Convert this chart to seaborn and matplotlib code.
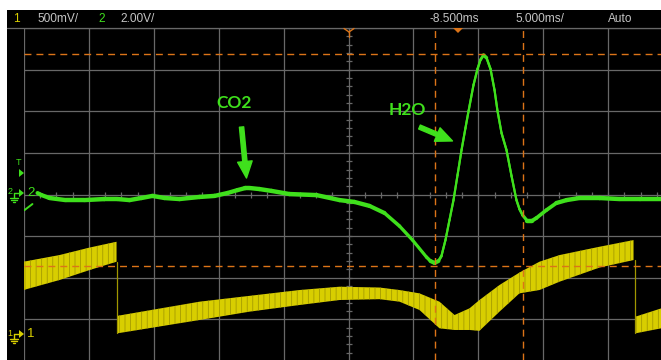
import matplotlib
matplotlib.use("Agg")
import matplotlib.pyplot as plt
from matplotlib.patches import Rectangle, Polygon
from matplotlib.lines import Line2D
from matplotlib.collections import LineCollection
import pandas as pd
import seaborn as sns

# ---------------- scope settings ----------------
time_per_div = 5.0        # ms / div
time_center = -8.5        # ms at screen centre (delay)
ch1_volts_per_div = 0.5
ch2_volts_per_div = 2.0
ch1_ground_div = -3.375   # ground reference, divisions from centre
ch2_ground_div = 0.036

# ---------------- channel 2 (green), ms / V ----------------
ch2_time = [-32.46, -32.15, -31.54, -30.30, -28.84, -27.30, -26.30, -25.37, -24.45,
            -23.60, -22.68, -21.52, -19.98, -18.82, -17.82, -17.05, -16.44, -16.13,
            -15.36, -14.43, -13.05, -10.97, -9.19, -8.04, -6.88, -5.73, -4.57, -3.57,
            -2.49, -2.18, -1.87, -1.57, -1.34, -1.03, -0.72, -0.41, -0.10, 0.21, 0.51,
            0.75, 1.13, 1.44, 1.67, 1.90, 2.13, 2.44, 2.75, 2.98, 3.29, 3.67, 4.06,
            4.44, 4.67, 4.91, 5.29, 5.60, 5.98, 6.75, 7.52, 8.30, 9.30, 10.84, 12.38,
            13.92, 15.54]
ch2_volt = [0.00, -0.10, -0.24, -0.34, -0.34, -0.29, -0.29, -0.34, -0.24,
            -0.14, -0.24, -0.29, -0.19, -0.14, 0.00, 0.14, 0.24, 0.24,
            0.19, 0.10, -0.05, -0.10, -0.34, -0.43, -0.62, -0.96, -1.59, -2.26,
            -3.08, -3.27, -3.36, -3.27, -3.03, -2.26, -1.30, -0.34, 0.86, 2.07, 3.12,
            3.94, 5.19, 5.96, 6.40, 6.63, 6.50, 5.96, 4.95, 3.94, 2.88, 2.07, 0.82,
            -0.34, -0.77, -1.06, -1.35, -1.35, -1.20, -0.82, -0.48, -0.34, -0.24, -0.24, -0.29,
            -0.29, -0.29]
ch2_lead_time = [-33.46, -32.85]
ch2_lead_volt = [-0.82, -0.53]

# ---------------- channel 1 (yellow) sweep envelopes, ms / V ----------------
sweep1_time = [-33.54, -30.77, -28.45, -26.37]
sweep1_high = [0.88, 0.96, 1.05, 1.12]
sweep1_low = [0.54, 0.66, 0.78, 0.88]

sweep2_time = [-26.30, -19.98, -16.13, -12.28, -9.19, -6.11, -4.57, -3.03, -1.49, -0.33,
               0.82, 1.59, 3.13, 4.67, 6.21, 7.76, 10.84, 13.46]
sweep2_high = [0.23, 0.40, 0.47, 0.54, 0.58, 0.57, 0.54, 0.50, 0.40, 0.24,
               0.32, 0.42, 0.60, 0.75, 0.88, 0.96, 1.06, 1.14]
sweep2_low = [0.02, 0.18, 0.28, 0.36, 0.42, 0.43, 0.40, 0.30, 0.08, 0.06,
              0.06, 0.05, 0.28, 0.50, 0.54, 0.64, 0.81, 0.90]

sweep3_time = [13.61, 15.60]
sweep3_high = [0.22, 0.32]
sweep3_low = [0.02, 0.08]

# cursors
cursor_times = [-1.80, 4.98]        # ms
cursor_levels_ch2 = [6.66, -3.51]   # V

# labels
status_ch1 = "500mV/"
status_ch2 = "2.00V/"
status_delay = "-8.500ms"
status_timebase = "5.000ms/"
status_mode = "Auto"

# ---------------- colours ----------------
BG = "black"
GRID = "#686868"
TXT = "#c4c4c4"
GREEN = "#3fe01c"
YELLOW = "#d8ce00"
YELLOW_DARK = "#a09700"
ORANGE = "#dc7418"

sns.set_style("dark")
plt.rcParams["font.family"] = ["Liberation Sans", "DejaVu Sans"]
plt.rcParams["hatch.linewidth"] = 0.55

W, H = 661, 360
fig = plt.figure(figsize=(W / 100, H / 100), dpi=100, facecolor="white")


def fp(x, y):
    """pixel (from top-left) -> figure fraction"""
    return x / W, 1 - y / H


# screen background
fig.patches.append(Rectangle(fp(7, 360), (W - 7) / W, 350 / H, transform=fig.transFigure,
                             facecolor=BG, edgecolor="none", zorder=-5))

# graticule axes (time in ms, vertical in divisions)
ax = fig.add_axes([24 / W, 0, (W - 24) / W, (360 - 28) / H])
ax.set_facecolor(BG)
px_per_div_x = 64.9
px_per_div_y = 41.625
x_left = time_center - 5 * time_per_div
x_right = x_left + (W - 24) / px_per_div_x * time_per_div
y_top = 4.0
y_bottom = y_top - (360 - 28) / px_per_div_y
ax.set_xlim(x_left, x_right)
ax.set_ylim(y_bottom, y_top)
for s in ax.spines.values():
    s.set_visible(False)
ax.set_xticks([])
ax.set_yticks([])
ax.grid(False)

for k in range(0, 11):
    ax.axvline(x_left + k * time_per_div, color=GRID, lw=0.9, zorder=1)
for k in range(-4, 5):
    ax.axhline(k, color=GRID, lw=0.9, zorder=1)

# centre axis minor ticks
minor_x = [x_left + 0.25 * k * time_per_div for k in range(0, 40)]
ax.plot(minor_x, [0] * len(minor_x), ls="none", marker="|", ms=4, mew=0.9, color=GRID, zorder=1)
minor_y = [-4 + 0.2 * k for k in range(0, 41)]
ax.plot([time_center] * len(minor_y), minor_y, ls="none", marker="_", ms=4, mew=0.9, color=GRID, zorder=1)

# channel 1 axes
ax1 = ax.twinx()
ax1.set_ylim((y_bottom - ch1_ground_div) * ch1_volts_per_div, (y_top - ch1_ground_div) * ch1_volts_per_div)
ax1.set_axis_off()

sweeps = pd.DataFrame({
    "time": sweep1_time + sweep2_time + sweep3_time,
    "high": sweep1_high + sweep2_high + sweep3_high,
    "low": sweep1_low + sweep2_low + sweep3_low,
    "sweep": [1] * len(sweep1_time) + [2] * len(sweep2_time) + [3] * len(sweep3_time),
})
for _, g in sweeps.groupby("sweep"):
    ax1.fill_between(g["time"], g["low"], g["high"], facecolor=YELLOW, edgecolor=YELLOW_DARK,
                     hatch="|||", linewidth=0, zorder=2)
# retrace edges between sweeps
ax1.plot([sweep2_time[0], sweep2_time[0]], [sweep1_low[-1], sweep2_low[0]], color=YELLOW_DARK, lw=0.9, zorder=2)
ax1.plot([sweep3_time[0], sweep3_time[0]], [sweep2_low[-1], sweep3_low[0]], color=YELLOW_DARK, lw=0.9, zorder=2)

# channel 2 axes
ax2 = ax.twinx()
ax2.set_ylim((y_bottom - ch2_ground_div) * ch2_volts_per_div, (y_top - ch2_ground_div) * ch2_volts_per_div)
ax2.set_axis_off()

ch2 = pd.DataFrame({"time": ch2_time, "volt": ch2_volt})
sns.lineplot(data=ch2, x="time", y="volt", ax=ax2, color=GREEN, lw=1.5, sort=False,
             estimator=None, zorder=3)

# phosphor-like thickness: slow parts of the trace drawn heavier than steep edges
segs, widths = [], []
for i in range(len(ch2_time) - 1):
    dx = (ch2_time[i + 1] - ch2_time[i]) / time_per_div * px_per_div_x
    dy = (ch2_volt[i + 1] - ch2_volt[i]) / ch2_volts_per_div * px_per_div_y
    slope = abs(dy) / max(dx, 1e-6)
    segs.append([(ch2_time[i], ch2_volt[i]), (ch2_time[i + 1], ch2_volt[i + 1])])
    widths.append(1.5 + 1.7 / (1 + 0.8 * slope ** 2))
ax2.add_collection(LineCollection(segs, linewidths=widths, colors=GREEN, capstyle="round",
                                  zorder=3))
ax2.plot(ch2_lead_time, ch2_lead_volt, color=GREEN, lw=1.4, zorder=3)

# cursors
for t in cursor_times:
    ax2.axvline(t, color=ORANGE, lw=1.0, ls=(0, (5, 3.6)), zorder=4)
for v in cursor_levels_ch2:
    ax2.axhline(v, color=ORANGE, lw=1.0, ls=(0, (5, 3.6)), zorder=4)

# annotations
arrow = dict(arrowstyle="simple,head_length=0.85,head_width=0.75,tail_width=0.22",
             color=GREEN, mutation_scale=14, shrinkA=0, shrinkB=0)
ax2.annotate("", xy=(-16.36, 0.72), xytext=(-16.74, 3.17), arrowprops=arrow, zorder=5)
ax2.annotate("", xy=(-0.49, 2.50), xytext=(-3.03, 3.17), arrowprops=arrow, zorder=5)
ax2.text(-17.28, 4.32, "CO2", color=GREEN, fontsize=12.5, fontweight="bold", family="Lato",
         ha="center", va="center", zorder=5)
ax2.text(-3.95, 3.99, "H2O", color=GREEN, fontsize=12.5, fontweight="bold", family="Lato",
         ha="center", va="center", zorder=5)

# ---------------- status bar ----------------
fig.add_artist(Line2D([7 / W, 1], [1 - 27.5 / H] * 2, color=GRID, lw=0.9))
ty = 1 - 19.5 / H
fs = 8.6
fig.text(13 / W, ty, "1", color=YELLOW, fontsize=fs, va="center")
fig.text(37 / W, ty, status_ch1, color=TXT, fontsize=fs, va="center")
fig.text(98 / W, ty, "2", color=GREEN, fontsize=fs, va="center")
fig.text(120 / W, ty, status_ch2, color=TXT, fontsize=fs, va="center")
fig.text(430 / W, ty, status_delay, color=TXT, fontsize=fs, va="center")
fig.text(515 / W, ty, status_timebase, color=TXT, fontsize=fs, va="center")
fig.text(608 / W, ty, status_mode, color=TXT, fontsize=fs, va="center")

# trigger / delay markers on top edge
fig.patches.append(Polygon([fp(453, 28), fp(463, 28), fp(458, 33)], closed=True,
                           transform=fig.transFigure, facecolor=ORANGE, edgecolor="none", zorder=6))
for seg in [((344, 28.5), (349, 32)), ((354, 28.5), (349, 32)), ((349, 32), (349, 37))]:
    (xa, ya), (xb, yb) = seg
    fig.add_artist(Line2D([xa / W, xb / W], [1 - ya / H, 1 - yb / H], color=ORANGE, lw=1.0))


# ---------------- channel reference markers (left strip) ----------------
def ground_marker(y, color, label):
    fig.text(10 / W, 1 - (y - 1) / H, label, color=color, fontsize=6.5, ha="center", va="center")
    fig.add_artist(Line2D([14 / W, 19 / W], [1 - y / H] * 2, color=color, lw=1.0))
    fig.add_artist(Line2D([14 / W, 14 / W], [1 - y / H, 1 - (y + 5) / H], color=color, lw=1.0))
    for dy, half in [(5, 4), (7, 2.6), (9, 1.2)]:
        fig.add_artist(Line2D([(14 - half) / W, (14 + half) / W], [1 - (y + dy) / H] * 2, color=color, lw=1.0))
    fig.patches.append(Polygon([fp(19, y - 4), fp(19, y + 4), fp(24, y)], closed=True,
                               transform=fig.transFigure, facecolor=color, edgecolor="none"))
    fig.text(27 / W, 1 - y / H, label, color=color, fontsize=9.5, ha="left", va="center")


ground_marker(193, GREEN, "2")
ground_marker(334, YELLOW, "1")
fig.text(18 / W, 1 - 163 / H, "T", color=GREEN, fontsize=6.5, ha="center", va="center")
fig.patches.append(Polygon([fp(19, 169), fp(19, 177), fp(24, 173)], closed=True,
                           transform=fig.transFigure, facecolor=GREEN, edgecolor="none"))

fig.savefig("out.png", dpi=100, facecolor="white")
